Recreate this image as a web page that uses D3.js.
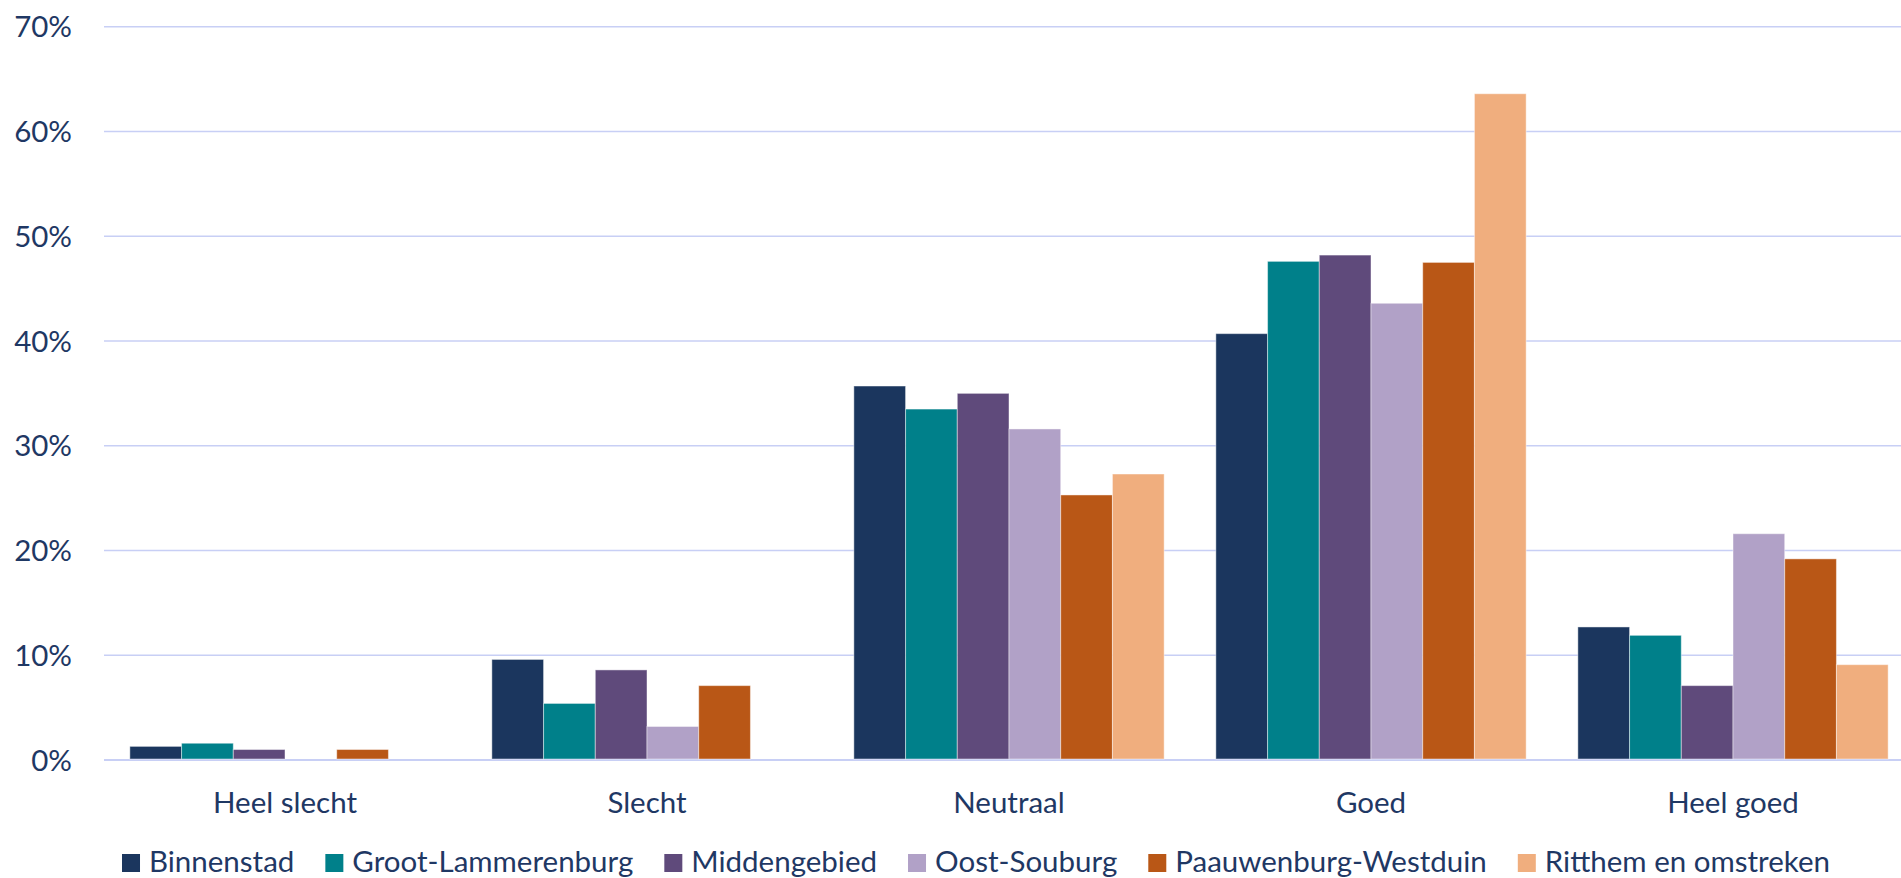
<!DOCTYPE html>
<html>
<head>
<meta charset="utf-8">
<script src="https://cdn.jsdelivr.net/npm/d3@7"></script>
<style>
  html, body { margin: 0; padding: 0; background: #ffffff; overflow: hidden; }
  svg { display: block; }
</style>
</head>
<body>
<svg id="chart" width="1901" height="878"></svg>
<script>
// ---- data ----
const categories = ["Heel slecht", "Slecht", "Neutraal", "Goed", "Heel goed"];
const seriesNames = ["Binnenstad", "Groot-Lammerenburg", "Middengebied", "Oost-Souburg", "Paauwenburg-Westduin", "Ritthem en omstreken"];
const binnenstad = [1.3, 9.6, 35.7, 40.7, 12.7];
const grootLammerenburg = [1.6, 5.4, 33.5, 47.6, 11.9];
const middengebied = [1.0, 8.6, 35.0, 48.2, 7.1];
const oostSouburg = [0, 3.2, 31.6, 43.6, 21.6];
const paauwenburgWestduin = [1.0, 7.1, 25.3, 47.5, 19.2];
const ritthem = [0, 0, 27.3, 63.6, 9.1];
const yTicks = [0, 10, 20, 30, 40, 50, 60, 70];
const yTickLabels = ["0%", "10%", "20%", "30%", "40%", "50%", "60%", "70%"];
const seriesColors = ["#1b365e", "#00808a", "#5f4a7b", "#b1a1c7", "#b95716", "#f0ae7e"];

const seriesValues = [binnenstad, grootLammerenburg, middengebied, oostSouburg, paauwenburgWestduin, ritthem];

// ---- layout ----
const svg = d3.select("#chart");
const textColor = "#1f3864";
const gridColor = "#c8cff5";
const fontFamily = "Lato, 'Open Sans', sans-serif";

// pick font size so that the category label width matches the reference (~144px for "Heel slecht")
const probe = svg.append("text").attr("font-family", fontFamily).attr("font-size", 100).text("Heel slecht");
const probeW = probe.node().getComputedTextLength();
probe.remove();
const fontSize = Math.min(34, Math.max(24, 100 * 144 / probeW));

const plotLeft = 104, plotRight = 1914;
const y0 = 760, y70 = 26.7;

const x = d3.scaleBand().domain(categories).range([plotLeft, plotRight]).paddingInner(0).paddingOuter(0);
const bw = x.bandwidth();
const xs = d3.scaleBand().domain(seriesNames).range([bw / 14, bw - bw / 14]).padding(0);
const y = d3.scaleLinear().domain([0, 70]).range([y0, y70]);

// gridlines
const yAxis = d3.axisLeft(y).tickValues(yTicks).tickFormat((d, i) => yTickLabels[i]).tickSize(0).tickPadding(32);
const gy = svg.append("g").attr("transform", `translate(${plotLeft},0)`).call(yAxis);
gy.select(".domain").remove();
gy.selectAll("text")
  .attr("font-family", fontFamily)
  .attr("font-size", fontSize)
  .attr("fill", textColor)
  .attr("dy", "0.34em");

svg.append("g").selectAll("line")
  .data(yTicks)
  .join("line")
  .attr("x1", plotLeft)
  .attr("x2", 1901)
  .attr("y1", d => y(d))
  .attr("y2", d => y(d))
  .attr("stroke", gridColor)
  .attr("stroke-width", d => d === 0 ? 2 : 1.5);

// bars
const barData = [];
seriesNames.forEach((s, si) => {
  categories.forEach((c, ci) => {
    barData.push({ series: s, cat: c, value: seriesValues[si][ci], color: seriesColors[si] });
  });
});

svg.append("g").selectAll("rect")
  .data(barData.filter(d => d.value > 0))
  .join("rect")
  .attr("x", d => x(d.cat) + xs(d.series))
  .attr("width", xs.bandwidth())
  .attr("y", d => y(d.value))
  .attr("height", d => y(0) - y(d.value) - 1)
  .attr("fill", d => d.color)
  .attr("stroke", "#ffffff")
  .attr("stroke-opacity", 0.45)
  .attr("stroke-width", 1);

// x axis labels
const xAxis = d3.axisBottom(x).tickSize(0).tickPadding(0);
const gx = svg.append("g").attr("transform", `translate(0,${y0})`).call(xAxis);
gx.select(".domain").remove();
gx.selectAll("text")
  .attr("font-family", fontFamily)
  .attr("font-size", fontSize)
  .attr("fill", textColor)
  .attr("y", 53)
  .attr("dy", 0);

// legend
const legend = svg.append("g");
const sq = 18, gapSqText = 9, gapItem = 31;
const items = legend.selectAll("g").data(seriesNames).join("g");
items.append("rect").attr("width", sq).attr("height", sq).attr("y", -sq).attr("fill", (d, i) => seriesColors[i]);
items.append("text")
  .attr("x", sq + gapSqText)
  .attr("y", 0)
  .attr("font-family", fontFamily)
  .attr("font-size", fontSize)
  .attr("fill", textColor)
  .text(d => d);
let cx = 0;
const widths = [];
items.each(function () {
  const w = sq + gapSqText + d3.select(this).select("text").node().getComputedTextLength();
  widths.push(w);
});
const totalW = d3.sum(widths) + gapItem * (widths.length - 1);
let startX = 976 - totalW / 2;
items.attr("transform", (d, i) => {
  const t = `translate(${startX},872)`;
  startX += widths[i] + gapItem;
  return t;
});
</script>
</body>
</html>
